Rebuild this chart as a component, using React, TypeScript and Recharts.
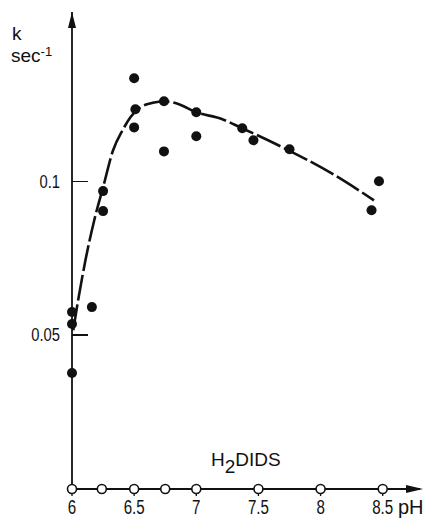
import {
  ComposedChart,
  Line,
  ReferenceDot,
  Scatter,
  XAxis,
  YAxis,
} from 'recharts';

// Vitesse k (sec^-1) en fonction du pH — points mesurés (●)
const measuredPH = [6.0, 6.0, 6.0, 6.16, 6.25, 6.25, 6.5, 6.51, 6.5, 6.74, 6.74, 7.0, 7.0, 7.37, 7.46, 7.75, 8.41, 8.47];
const measuredK = [0.0575, 0.0536, 0.0377, 0.0591, 0.0968, 0.0903, 0.1335, 0.1234, 0.1175, 0.126, 0.1097, 0.1224, 0.1146, 0.1172, 0.1133, 0.1104, 0.0906, 0.1];

// Courbe ajustée
const fitPH = [6.01, 6.05, 6.11, 6.18, 6.25, 6.33, 6.41, 6.47, 6.55, 6.65, 6.74, 6.85, 7.0, 7.2, 7.37, 7.66, 8.1, 8.43];
const fitK = [0.0516, 0.0615, 0.0747, 0.0875, 0.098, 0.11, 0.1168, 0.1208, 0.124, 0.1255, 0.126, 0.1252, 0.1224, 0.1203, 0.1172, 0.1117, 0.1023, 0.0938];

// H2DIDS (○) — aucune activité
const didsPH = [6.0, 6.24, 6.5, 6.75, 7.0, 7.5, 8.0, 8.5];
const didsK = [0, 0, 0, 0, 0, 0, 0, 0];

const xTicks = [6, 6.5, 7, 7.5, 8, 8.5];
const xTickLabels = ['6', '6.5', '7', '7.5', '8', '8.5'];
const yTicks = [0.05, 0.1];
const yTickLabels = ['0.05', '0.1'];

const X_DOMAIN: [number, number] = [6, 8.8];
const Y_DOMAIN: [number, number] = [0, 0.155];

const measured = measuredPH.map((x, i) => ({ x, y: measuredK[i] }));
const fit = fitPH.map((x, i) => ({ x, y: fitK[i] }));
const dids = didsPH.map((x, i) => ({ x, y: didsK[i] }));

const FONT = "'Liberation Sans', Arial, sans-serif";
const INK = '#111';

// géométrie du graphe (marges + largeur d'axe) — sert aussi aux traits de graduation Y
const CHART_W = 434;
const CHART_H = 520;
const MARGIN_TOP = 12;
const X_AXIS_H = 31;
const Y_AXIS_W = 72;
const PLOT_BOTTOM = CHART_H - X_AXIS_H;
const yToPx = (v: number) =>
  PLOT_BOTTOM - ((v - Y_DOMAIN[0]) / (Y_DOMAIN[1] - Y_DOMAIN[0])) * (PLOT_BOTTOM - MARGIN_TOP);

function ArrowRight(props: any) {
  const { cx, cy } = props;
  return <polygon points={`${cx + 3},${cy} ${cx - 14},${cy - 4} ${cx - 14},${cy + 4}`} fill={INK} />;
}

function ArrowUp(props: any) {
  const { cx, cy } = props;
  return <polygon points={`${cx},${cy} ${cx - 4},${cy + 16} ${cx + 4},${cy + 16}`} fill={INK} />;
}

function FilledDot(props: any) {
  const { cx, cy } = props;
  return <circle cx={cx} cy={cy} r={5} fill={INK} />;
}

function OpenDot(props: any) {
  const { cx, cy } = props;
  return <circle cx={cx} cy={cy} r={4.5} fill="#fff" stroke={INK} strokeWidth={1.6} />;
}

// graduations en police étroite (le scan utilise une linéale condensée)
function XTick(props: any) {
  const { x, y, payload } = props;
  const label = xTickLabels[xTicks.indexOf(payload.value)] ?? '';
  return (
    <g transform={`translate(${x},${y})`}>
      <text transform="scale(0.72,1)" textAnchor="middle" dy="0.71em" fontSize={21} fill={INK} fontFamily={FONT}>
        {label}
      </text>
    </g>
  );
}

function YTick(props: any) {
  const { x, y, payload } = props;
  const label = yTickLabels[yTicks.indexOf(payload.value)] ?? '';
  return (
    <g transform={`translate(${x},${y})`}>
      <text transform="scale(0.82,1)" textAnchor="end" dy="0.35em" fontSize={18} fill={INK} fontFamily={FONT}>
        {label}
      </text>
    </g>
  );
}

export default function App() {
  return (
    <div
      style={{
        position: 'absolute',
        left: 0,
        top: 0,
        width: CHART_W,
        height: CHART_H,
        background: '#fff',
        fontFamily: FONT,
        color: INK,
      }}
    >
      <ComposedChart
        width={CHART_W}
        height={CHART_H}
        margin={{ top: MARGIN_TOP, right: 14, bottom: 0, left: 0 }}
      >
        <XAxis
          type="number"
          dataKey="x"
          domain={X_DOMAIN}
          ticks={xTicks}
          height={X_AXIS_H}
          tickSize={7}
          tickMargin={3}
          tick={<XTick />}
          tickLine={{ stroke: INK, strokeWidth: 1.3 }}
          axisLine={{ stroke: INK, strokeWidth: 2 }}
        />
        <YAxis
          type="number"
          dataKey="y"
          domain={Y_DOMAIN}
          ticks={yTicks}
          width={Y_AXIS_W}
          tickLine={false}
          tickSize={0}
          tickMargin={12}
          tick={<YTick />}
          axisLine={{ stroke: INK, strokeWidth: 1.8 }}
        />
        <Line
          data={dids}
          dataKey="y"
          type="linear"
          stroke={INK}
          strokeWidth={1.5}
          dot={<OpenDot />}
          isAnimationActive={false}
        />
        <Line
          data={fit}
          dataKey="y"
          type="monotone"
          stroke={INK}
          strokeWidth={2.6}
          strokeDasharray="26 4"
          dot={false}
          isAnimationActive={false}
        />
        <Scatter data={measured} dataKey="y" shape={<FilledDot />} isAnimationActive={false} />
        <ReferenceDot x={X_DOMAIN[1]} y={0} r={0} shape={<ArrowRight />} ifOverflow="visible" />
        <ReferenceDot x={6} y={Y_DOMAIN[1]} r={0} shape={<ArrowUp />} ifOverflow="visible" />
      </ComposedChart>

      {/* traits de graduation Y tournés vers l'intérieur */}
      {yTicks.map((t) => (
        <div
          key={t}
          style={{
            position: 'absolute',
            left: Y_AXIS_W,
            top: yToPx(t) - 0.75,
            width: 16,
            height: 1.5,
            background: INK,
            zIndex: 2,
          }}
        />
      ))}

      <div style={{ position: 'absolute', left: 12, top: 24, fontSize: 19, lineHeight: '19px' }}>k</div>
      <div style={{ position: 'absolute', left: 11, top: 42, fontSize: 19, lineHeight: '19px' }}>
        sec<sup style={{ fontSize: 13, verticalAlign: 6 }}>-1</sup>
      </div>
      <div style={{ position: 'absolute', left: 211, top: 450, fontSize: 19, lineHeight: '19px' }}>
        H<sub style={{ fontSize: 19, verticalAlign: -7, lineHeight: 0 }}>2</sub>DIDS
      </div>
      <div style={{ position: 'absolute', left: 398, top: 497, fontSize: 20, lineHeight: '20px' }}>pH</div>
    </div>
  );
}
